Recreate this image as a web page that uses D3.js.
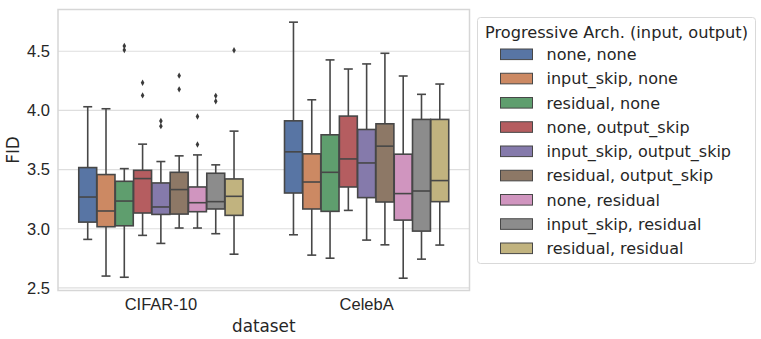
<!DOCTYPE html>
<html>
<head>
<meta charset="utf-8">
<script src="https://cdn.jsdelivr.net/npm/d3@7"></script>
<style>
  body { margin: 0; background: #fff; }
  svg { display: block; font-family: "DejaVu Sans", sans-serif; }
  .tick text { fill: #262626; }
</style>
</head>
<body>
<div id="chart"></div>
<script>
// categories and hue levels
const datasets = ['CIFAR-10', 'CelebA'];
const archs = [
    'none, none', 'input_skip, none', 'residual, none',
    'none, output_skip', 'input_skip, output_skip', 'residual, output_skip',
    'none, residual', 'input_skip, residual', 'residual, residual'
];
const colors = ['#5875a4', '#cc8963', '#5f9e6e', '#b55d60', '#857aab', '#8d7866', '#d095bf', '#8c8c8c', '#c1b37f'];

// box stats per arch: [whiskerLow, q1, median, q3, whiskerHigh]
const cifarStats = [
    [2.91, 3.056, 3.268, 3.517, 4.031],
    [2.60, 3.017, 3.150, 3.458, 4.014],
    [2.59, 3.025, 3.234, 3.401, 3.508],
    [2.944, 3.133, 3.424, 3.494, 3.715],
    [2.876, 3.121, 3.184, 3.387, 3.568],
    [3.006, 3.124, 3.331, 3.477, 3.616],
    [3.006, 3.144, 3.220, 3.353, 3.624],
    [2.958, 3.167, 3.229, 3.469, 3.540],
    [2.785, 3.113, 3.274, 3.421, 3.825]
];
const celebaStats = [
    [2.949, 3.302, 3.650, 3.912, 4.746],
    [2.777, 3.167, 3.395, 3.633, 4.090],
    [2.751, 3.147, 3.477, 3.794, 4.427],
    [3.155, 3.353, 3.590, 3.952, 4.350],
    [2.904, 3.263, 3.556, 3.839, 4.393],
    [2.864, 3.226, 3.698, 3.887, 4.483],
    [2.582, 3.073, 3.297, 3.630, 4.291],
    [2.743, 2.980, 3.319, 3.924, 4.136],
    [2.862, 3.229, 3.407, 3.924, 4.223]
];
const cifarOutliers = [
    [], [], [4.545, 4.51], [4.234, 4.127], [3.91, 3.867],
    [4.294, 4.178], [3.949, 3.712], [4.123, 4.077], [4.508]
];
const celebaOutliers = [[], [], [], [], [], [], [], [], []];
const yTicks = [2.5, 3.0, 3.5, 4.0, 4.5];

const W = 761, H = 339;
const margin = { left: 58, right: 291.5, top: 9.5, bottom: 48.5 };
const lineColor = '#474747';

const svg = d3.select('#chart').append('svg')
    .attr('width', W).attr('height', H);

const x = d3.scaleBand()
    .domain(datasets)
    .range([margin.left, W - margin.right]);
const hueX = d3.scaleBand()
    .domain(archs)
    .range([x.bandwidth() * 0.1, x.bandwidth() * 0.9]);
const y = d3.scaleLinear()
    .domain([2.478, 4.853])
    .range([H - margin.bottom, margin.top]);

// grid
svg.append('g')
    .selectAll('line')
    .data(yTicks)
    .join('line')
    .attr('x1', margin.left).attr('x2', W - margin.right)
    .attr('y1', d => y(d)).attr('y2', d => y(d))
    .attr('stroke', '#dedede').attr('stroke-width', 1.2);

// frame
svg.append('rect')
    .attr('x', margin.left).attr('y', margin.top)
    .attr('width', W - margin.right - margin.left)
    .attr('height', H - margin.bottom - margin.top)
    .attr('fill', 'none').attr('stroke', '#d6d6d6').attr('stroke-width', 1.5);

// axes
const yAxis = svg.append('g')
    .attr('transform', `translate(${margin.left},0)`)
    .call(d3.axisLeft(y).tickValues(yTicks).tickFormat(d3.format('.1f')).tickSize(0).tickPadding(8));
yAxis.select('.domain').remove();
yAxis.selectAll('text').style('font-size', '16.5px');

const xAxis = svg.append('g')
    .attr('transform', `translate(0,${H - margin.bottom})`)
    .call(d3.axisBottom(x).tickSize(0).tickPadding(8));
xAxis.select('.domain').remove();
xAxis.selectAll('text').style('font-size', '16.5px');

svg.append('text')
    .attr('x', (margin.left + W - margin.right) / 2)
    .attr('y', 331.5)
    .attr('text-anchor', 'middle')
    .attr('fill', '#262626')
    .style('font-size', '16.8px')
    .text('dataset');

svg.append('text')
    .attr('transform', `translate(19,${(margin.top + H - margin.bottom) / 2}) rotate(-90)`)
    .attr('text-anchor', 'middle')
    .attr('fill', '#262626')
    .style('font-size', '16.8px')
    .text('FID');

// boxes
const boxes = [];
datasets.forEach((ds, di) => {
    const stats = di === 0 ? cifarStats : celebaStats;
    const outs = di === 0 ? cifarOutliers : celebaOutliers;
    archs.forEach((a, ai) => {
        boxes.push({ ds, arch: a, color: colors[ai], s: stats[ai], out: outs[ai] });
    });
});

const bw = hueX.bandwidth() * 0.98;
const g = svg.append('g')
    .selectAll('g')
    .data(boxes)
    .join('g')
    .attr('transform', d => `translate(${x(d.ds) + hueX(d.arch) + hueX.bandwidth() / 2},0)`);

// whiskers
g.append('line')
    .attr('x1', 0).attr('x2', 0)
    .attr('y1', d => y(d.s[0])).attr('y2', d => y(d.s[1]))
    .attr('stroke', lineColor).attr('stroke-width', 1.6);
g.append('line')
    .attr('x1', 0).attr('x2', 0)
    .attr('y1', d => y(d.s[3])).attr('y2', d => y(d.s[4]))
    .attr('stroke', lineColor).attr('stroke-width', 1.6);
// caps
g.selectAll('line.cap')
    .data(d => [d.s[0], d.s[4]])
    .join('line')
    .attr('class', 'cap')
    .attr('x1', -bw / 4).attr('x2', bw / 4)
    .attr('y1', d => y(d)).attr('y2', d => y(d))
    .attr('stroke', lineColor).attr('stroke-width', 1.6);

g.append('rect')
    .attr('x', -bw / 2)
    .attr('width', bw)
    .attr('y', d => y(d.s[3]))
    .attr('height', d => y(d.s[1]) - y(d.s[3]))
    .attr('fill', d => d.color)
    .attr('stroke', lineColor).attr('stroke-width', 1.6);

g.append('line')
    .attr('x1', -bw / 2).attr('x2', bw / 2)
    .attr('y1', d => y(d.s[2])).attr('y2', d => y(d.s[2]))
    .attr('stroke', lineColor).attr('stroke-width', 1.6);

// outliers (thin diamonds)
g.selectAll('path.flier')
    .data(d => d.out)
    .join('path')
    .attr('class', 'flier')
    .attr('d', d => `M0,${y(d) - 3.2}L1.8,${y(d)}L0,${y(d) + 3.2}L-1.8,${y(d)}Z`)
    .attr('fill', '#3a3a3a');

// legend
const lg = svg.append('g');
lg.append('rect')
    .attr('x', 477.5).attr('y', 17.5)
    .attr('width', 278).attr('height', 246)
    .attr('rx', 3)
    .attr('fill', '#fff').attr('stroke', '#d9d9d9').attr('stroke-width', 1);
lg.append('text')
    .attr('x', 616.5).attr('y', 37.5)
    .attr('text-anchor', 'middle')
    .attr('fill', '#262626')
    .style('font-size', '16.2px')
    .text('Progressive Arch. (input, output)');
const item = lg.selectAll('g.item')
    .data(archs)
    .join('g')
    .attr('class', 'item')
    .attr('transform', (d, i) => `translate(0,${54.3 + i * 24.25})`);
item.append('rect')
    .attr('x', 500.5).attr('y', -5.3)
    .attr('width', 32).attr('height', 10.6)
    .attr('fill', (d, i) => colors[i])
    .attr('stroke', lineColor).attr('stroke-width', 1);
item.append('text')
    .attr('x', 546.5).attr('y', 5.8)
    .attr('fill', '#262626')
    .style('font-size', '16px')
    .text(d => d);
</script>
</body>
</html>
